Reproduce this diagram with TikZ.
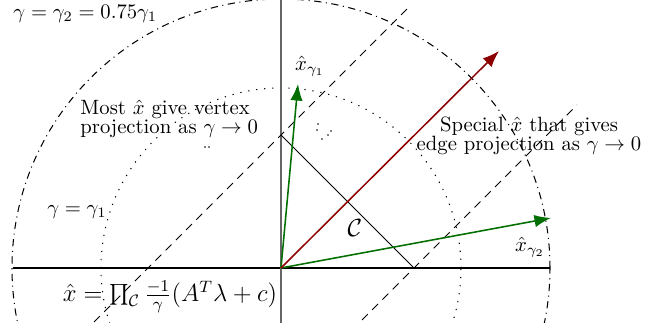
\documentclass[tikz,border=0pt]{standalone}
\usetikzlibrary{arrows.meta,calc}
\usepackage{xcolor}

\definecolor{vecgreen}{RGB}{0,110,0}
\definecolor{vecred}{RGB}{140,0,0}

\begin{document}
\begin{tikzpicture}[
    x=0.017cm, y=0.017cm,
    axis/.style={line width=0.55pt},
    vaxis/.style={line width=0.55pt, gray!80!black},
    edge/.style={line width=0.45pt},
    vec/.style={-{Latex[length=8pt, width=6pt]}, line width=0.75pt},
    level/.style={line width=0.5pt},
    lbl/.style={inner sep=1pt, align=left},
    note/.style={inner sep=1pt, align=center, font=\normalsize}
]

\clip (-281,-55) rectangle (387,268);

\coordinate (O) at (0,0);
\coordinate (v1) at (0,133);
\coordinate (v2) at (133,0);
\coordinate (xg1) at (17,184);
\coordinate (xg2) at (270,50);
\coordinate (xs) at (218,217);

% level sets of gamma
\draw[level, dash pattern=on 3.5pt off 2.2pt on 0.5pt off 2.2pt] (O) circle (269);
\draw[level, dash pattern=on 0.6pt off 3.3pt] (O) circle (180);

% axes
\draw[axis] (-268,0) -- (269,0);
\draw[vaxis] (0,-55) -- (0,268);

% simplex and normal lines
\draw[edge] (v1) -- (v2);
\draw[level, dash pattern=on 4pt off 3pt] ($(v1)+(-187,-187)$) -- ($(v1)+(130,130)$);
\draw[level, dash pattern=on 4pt off 3pt] ($(v2)+(-52,-52)$) -- ($(v2)+(163,163)$);

% projected points
\draw[vec, vecgreen] (O) -- (xg1);
\draw[vec, vecgreen] (O) -- (xg2);
\draw[vec, vecred] (O) -- (xs);

% stray dots
\foreach \p in {(-76,121),(-72,121),(37,144),(36,138),(50,137),(47,133),(41,129)}
    \fill \p circle (0.9);

\node[lbl, anchor=west] (g2) at (-270,254) {$\gamma=\gamma_2=0.75\gamma_1$};
\node[lbl] (g1) at (-204,56) {$\gamma=\gamma_1$};
\node[lbl, anchor=west] (most) at (-203,149) {Most $\hat{x}$ give vertex\\[-3pt]projection as $\gamma\to 0$};
\node[note] (special) at (248,132) {Special $\hat{x}$ that gives\\[-3pt]edge projection as $\gamma\to 0$};
\node[lbl] (lg1) at (29,202) {$\hat{x}_{\gamma_1}$};
\node[lbl] (lg2) at (249,21) {$\hat{x}_{\gamma_2}$};
\node[lbl, font=\large] (cset) at (74,40) {$\mathcal{C}$};
\node[lbl, font=\large] (proj) at (-111,-29) {$\hat{x}=\prod_{\mathcal{C}}\frac{-1}{\gamma}(A^T\lambda+c)$};
\end{tikzpicture}
\end{document}
